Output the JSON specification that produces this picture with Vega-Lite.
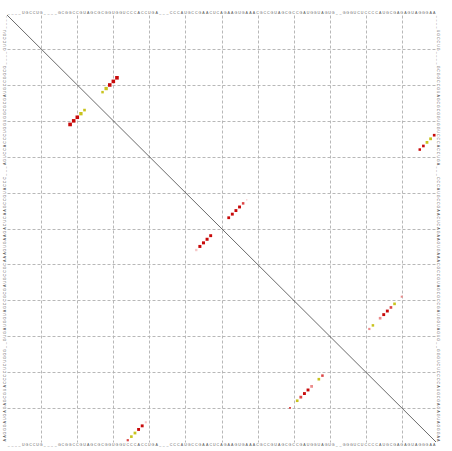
{
  "$schema": "https://vega.github.io/schema/vega-lite/v6.json",
  "width": 429,
  "height": 427,
  "autosize": "none",
  "padding": {"left": 7, "top": 15, "right": 16, "bottom": 9},
  "background": "white",
  "config": {
    "view": {"stroke": null},
    "axis": {"labels": false, "ticks": false, "domain": false, "title": null, "grid": true,
             "gridDash": [3, 2], "gridColor": "#b0b0b0", "gridWidth": 0.9,
             "values": [10.5, 20.5, 30.5, 40.5, 50.5, 60.5, 70.5, 80.5, 90.5, 100.5, 110.5]}
  },
  "datasets": {
    "diag": [{"s": 0.5, "e": 119.5}],
    "pairs": [
      {"i": 18, "j": 31, "p": 0.95, "t": "red", "tri": "u"},
      {"i": 19, "j": 30, "p": 0.9, "t": "red", "tri": "u"},
      {"i": 20, "j": 29, "p": 0.9, "t": "red", "tri": "u"},
      {"i": 21, "j": 28, "p": 0.8, "t": "ochre", "tri": "u"},
      {"i": 22, "j": 27, "p": 0.45, "t": "ochre", "tri": "u"},
      {"i": 52, "j": 67, "p": 0.12, "t": "pale", "tri": "u"},
      {"i": 53, "j": 66, "p": 0.45, "t": "pinkred", "tri": "u"},
      {"i": 54, "j": 65, "p": 0.6, "t": "red", "tri": "u"},
      {"i": 55, "j": 64, "p": 0.6, "t": "red", "tri": "u"},
      {"i": 56, "j": 63, "p": 0.6, "t": "red", "tri": "u"},
      {"i": 57, "j": 62, "p": 0.55, "t": "red", "tri": "u"},
      {"i": 34, "j": 119, "p": 0.5, "t": "red", "tri": "u"},
      {"i": 35, "j": 118, "p": 0.55, "t": "ochre", "tri": "u"},
      {"i": 36, "j": 117, "p": 0.55, "t": "ochre", "tri": "u"},
      {"i": 37, "j": 116, "p": 0.5, "t": "red", "tri": "u"},
      {"i": 38, "j": 115, "p": 0.45, "t": "red", "tri": "u"},
      {"i": 79, "j": 110, "p": 0.3, "t": "pink", "tri": "u"},
      {"i": 81, "j": 108, "p": 0.5, "t": "ochre", "tri": "u"},
      {"i": 82, "j": 107, "p": 0.5, "t": "pinkred", "tri": "u"},
      {"i": 83, "j": 106, "p": 0.6, "t": "red", "tri": "u"},
      {"i": 84, "j": 105, "p": 0.6, "t": "red", "tri": "u"},
      {"i": 85, "j": 104, "p": 0.5, "t": "pink", "tri": "u"},
      {"i": 87, "j": 102, "p": 0.45, "t": "ochre", "tri": "u"},
      {"i": 88, "j": 101, "p": 0.35, "t": "pink", "tri": "u"},
      {"i": 18, "j": 31, "p": 0.95, "t": "red", "tri": "l"},
      {"i": 19, "j": 30, "p": 0.9, "t": "red", "tri": "l"},
      {"i": 20, "j": 29, "p": 0.9, "t": "red", "tri": "l"},
      {"i": 21, "j": 28, "p": 0.8, "t": "ochre", "tri": "l"},
      {"i": 22, "j": 27, "p": 0.5, "t": "ochre", "tri": "l"},
      {"i": 53, "j": 66, "p": 0.4, "t": "pale", "tri": "l"},
      {"i": 54, "j": 65, "p": 0.65, "t": "red", "tri": "l"},
      {"i": 55, "j": 64, "p": 0.65, "t": "red", "tri": "l"},
      {"i": 56, "j": 63, "p": 0.65, "t": "red", "tri": "l"},
      {"i": 57, "j": 62, "p": 0.6, "t": "red", "tri": "l"},
      {"i": 34, "j": 119, "p": 0.35, "t": "pinkred", "tri": "l"},
      {"i": 35, "j": 118, "p": 0.5, "t": "ochre", "tri": "l"},
      {"i": 36, "j": 117, "p": 0.55, "t": "ochre", "tri": "l"},
      {"i": 37, "j": 116, "p": 0.6, "t": "red", "tri": "l"},
      {"i": 38, "j": 115, "p": 0.6, "t": "red", "tri": "l"},
      {"i": 39, "j": 114, "p": 0.3, "t": "pale", "tri": "l"},
      {"i": 79, "j": 110, "p": 0.25, "t": "pinkred", "tri": "l"},
      {"i": 81, "j": 108, "p": 0.5, "t": "ochre", "tri": "l"},
      {"i": 82, "j": 107, "p": 0.55, "t": "pinkred", "tri": "l"},
      {"i": 83, "j": 106, "p": 0.6, "t": "red", "tri": "l"},
      {"i": 84, "j": 105, "p": 0.6, "t": "red", "tri": "l"},
      {"i": 85, "j": 104, "p": 0.55, "t": "pink", "tri": "l"},
      {"i": 87, "j": 102, "p": 0.5, "t": "ochre", "tri": "l"},
      {"i": 88, "j": 101, "p": 0.45, "t": "pinkred", "tri": "l"}
    ],
    "seq": [
      {"p":1,"n":"_"},{"p":2,"n":"_"},{"p":3,"n":"_"},{"p":4,"n":"_"},
      {"p":5,"n":"U"},{"p":6,"n":"G"},{"p":7,"n":"C"},{"p":8,"n":"C"},{"p":9,"n":"U"},{"p":10,"n":"G"},
      {"p":11,"n":"_"},{"p":12,"n":"_"},{"p":13,"n":"_"},{"p":14,"n":"_"},
      {"p":15,"n":"G"},{"p":16,"n":"C"},{"p":17,"n":"G"},{"p":18,"n":"G"},{"p":19,"n":"C"},{"p":20,"n":"C"},
      {"p":21,"n":"G"},{"p":22,"n":"U"},{"p":23,"n":"A"},{"p":24,"n":"G"},{"p":25,"n":"C"},{"p":26,"n":"G"},
      {"p":27,"n":"C"},{"p":28,"n":"G"},{"p":29,"n":"G"},{"p":30,"n":"U"},{"p":31,"n":"G"},{"p":32,"n":"G"},
      {"p":33,"n":"U"},{"p":34,"n":"C"},{"p":35,"n":"C"},{"p":36,"n":"C"},{"p":37,"n":"A"},{"p":38,"n":"C"},
      {"p":39,"n":"C"},{"p":40,"n":"U"},{"p":41,"n":"G"},{"p":42,"n":"A"},
      {"p":43,"n":"_"},{"p":44,"n":"_"},{"p":45,"n":"_"},
      {"p":46,"n":"C"},{"p":47,"n":"C"},{"p":48,"n":"C"},{"p":49,"n":"A"},{"p":50,"n":"U"},{"p":51,"n":"G"},
      {"p":52,"n":"C"},{"p":53,"n":"C"},{"p":54,"n":"G"},{"p":55,"n":"A"},{"p":56,"n":"A"},{"p":57,"n":"C"},
      {"p":58,"n":"U"},{"p":59,"n":"C"},{"p":60,"n":"A"},{"p":61,"n":"G"},{"p":62,"n":"A"},{"p":63,"n":"A"},
      {"p":64,"n":"G"},{"p":65,"n":"U"},{"p":66,"n":"G"},{"p":67,"n":"A"},{"p":68,"n":"A"},{"p":69,"n":"A"},
      {"p":70,"n":"C"},{"p":71,"n":"G"},{"p":72,"n":"C"},{"p":73,"n":"C"},{"p":74,"n":"G"},{"p":75,"n":"U"},
      {"p":76,"n":"A"},{"p":77,"n":"G"},{"p":78,"n":"C"},{"p":79,"n":"G"},{"p":80,"n":"C"},{"p":81,"n":"C"},
      {"p":82,"n":"G"},{"p":83,"n":"A"},{"p":84,"n":"U"},{"p":85,"n":"G"},{"p":86,"n":"G"},{"p":87,"n":"U"},
      {"p":88,"n":"A"},{"p":89,"n":"G"},{"p":90,"n":"U"},{"p":91,"n":"G"},
      {"p":92,"n":"_"},{"p":93,"n":"_"},
      {"p":94,"n":"G"},{"p":95,"n":"G"},{"p":96,"n":"G"},{"p":97,"n":"U"},{"p":98,"n":"C"},{"p":99,"n":"U"},
      {"p":100,"n":"C"},{"p":101,"n":"C"},{"p":102,"n":"C"},{"p":103,"n":"C"},{"p":104,"n":"A"},{"p":105,"n":"U"},
      {"p":106,"n":"G"},{"p":107,"n":"C"},{"p":108,"n":"G"},{"p":109,"n":"A"},{"p":110,"n":"G"},{"p":111,"n":"A"},
      {"p":112,"n":"G"},{"p":113,"n":"U"},{"p":114,"n":"A"},{"p":115,"n":"G"},{"p":116,"n":"G"},{"p":117,"n":"G"},
      {"p":118,"n":"A"},{"p":119,"n":"A"}
    ]
  },
  "layer": [
    {
      "data": {"name": "diag"},
      "mark": {"type": "rule", "color": "#444444", "strokeWidth": 0.8},
      "encoding": {
        "x": {"field": "s", "type": "quantitative", "scale": {"domain": [0.5, 119.5], "nice": false, "zero": false}, "axis": {"orient": "top"}},
        "y": {"field": "s", "type": "quantitative", "scale": {"domain": [0.5, 119.5], "nice": false, "zero": false, "reverse": true}, "axis": {"orient": "left"}},
        "x2": {"field": "e"},
        "y2": {"field": "e"}
      }
    },
    {
      "data": {"name": "pairs"},
      "transform": [{"filter": "datum.tri === 'u'"}],
      "mark": {"type": "point", "shape": "square", "filled": true, "opacity": 1, "strokeWidth": 0},
      "encoding": {
        "x": {"field": "j", "type": "quantitative", "scale": {"domain": [0.5, 119.5], "nice": false, "zero": false}, "axis": {"orient": "top"}},
        "y": {"field": "i", "type": "quantitative", "scale": {"domain": [0.5, 119.5], "nice": false, "zero": false, "reverse": true}, "axis": {"orient": "left"}},
        "size": {"field": "p", "type": "quantitative", "scale": {"type": "linear", "domain": [0, 1], "range": [0, 14]}, "legend": null},
        "color": {"field": "t", "type": "nominal",
                  "scale": {"domain": ["red", "pinkred", "pink", "pale", "ochre"],
                            "range": ["#c80a0a", "#dc4646", "#eb8c8c", "#f5c8c8", "#c8c31e"]},
                  "legend": null}
      }
    },
    {
      "data": {"name": "pairs"},
      "transform": [{"filter": "datum.tri === 'l'"}],
      "mark": {"type": "point", "shape": "square", "filled": true, "opacity": 1, "strokeWidth": 0},
      "encoding": {
        "x": {"field": "i", "type": "quantitative", "scale": {"domain": [0.5, 119.5], "nice": false, "zero": false}, "axis": {"orient": "top"}},
        "y": {"field": "j", "type": "quantitative", "scale": {"domain": [0.5, 119.5], "nice": false, "zero": false, "reverse": true}, "axis": {"orient": "left"}},
        "size": {"field": "p", "type": "quantitative", "scale": {"type": "linear", "domain": [0, 1], "range": [0, 14]}, "legend": null},
        "color": {"field": "t", "type": "nominal",
                  "scale": {"domain": ["red", "pinkred", "pink", "pale", "ochre"],
                            "range": ["#c80a0a", "#dc4646", "#eb8c8c", "#f5c8c8", "#c8c31e"]},
                  "legend": null}
      }
    },
    {
      "data": {"name": "seq"},
      "mark": {"type": "text", "fontSize": 3.6, "font": "Liberation Sans", "color": "#555555", "baseline": "bottom", "align": "center", "dy": -0.5},
      "encoding": {
        "x": {"field": "p", "type": "quantitative", "scale": {"domain": [0.5, 119.5], "nice": false, "zero": false}, "axis": {"orient": "top"}},
        "y": {"datum": 0.5, "type": "quantitative", "scale": {"domain": [0.5, 119.5], "nice": false, "zero": false, "reverse": true}, "axis": {"orient": "left"}},
        "text": {"field": "n"}
      }
    },
    {
      "data": {"name": "seq"},
      "mark": {"type": "text", "fontSize": 3.6, "font": "Liberation Sans", "color": "#555555", "baseline": "top", "align": "center", "dy": 0.5},
      "encoding": {
        "x": {"field": "p", "type": "quantitative", "scale": {"domain": [0.5, 119.5], "nice": false, "zero": false}, "axis": {"orient": "top"}},
        "y": {"datum": 119.5, "type": "quantitative", "scale": {"domain": [0.5, 119.5], "nice": false, "zero": false, "reverse": true}, "axis": {"orient": "left"}},
        "text": {"field": "n"}
      }
    },
    {
      "data": {"name": "seq"},
      "mark": {"type": "text", "fontSize": 3.6, "font": "Liberation Sans", "color": "#555555", "baseline": "bottom", "align": "center", "angle": 270},
      "encoding": {
        "x": {"datum": 0.5, "type": "quantitative", "scale": {"domain": [0.5, 119.5], "nice": false, "zero": false}, "axis": {"orient": "top"}},
        "y": {"field": "p", "type": "quantitative", "scale": {"domain": [0.5, 119.5], "nice": false, "zero": false, "reverse": true}, "axis": {"orient": "left"}},
        "text": {"field": "n"}
      }
    },
    {
      "data": {"name": "seq"},
      "mark": {"type": "text", "fontSize": 3.6, "font": "Liberation Sans", "color": "#555555", "baseline": "bottom", "align": "center", "angle": 90},
      "encoding": {
        "x": {"datum": 119.5, "type": "quantitative", "scale": {"domain": [0.5, 119.5], "nice": false, "zero": false}, "axis": {"orient": "top"}},
        "y": {"field": "p", "type": "quantitative", "scale": {"domain": [0.5, 119.5], "nice": false, "zero": false, "reverse": true}, "axis": {"orient": "left"}},
        "text": {"field": "n"}
      }
    }
  ]
}
